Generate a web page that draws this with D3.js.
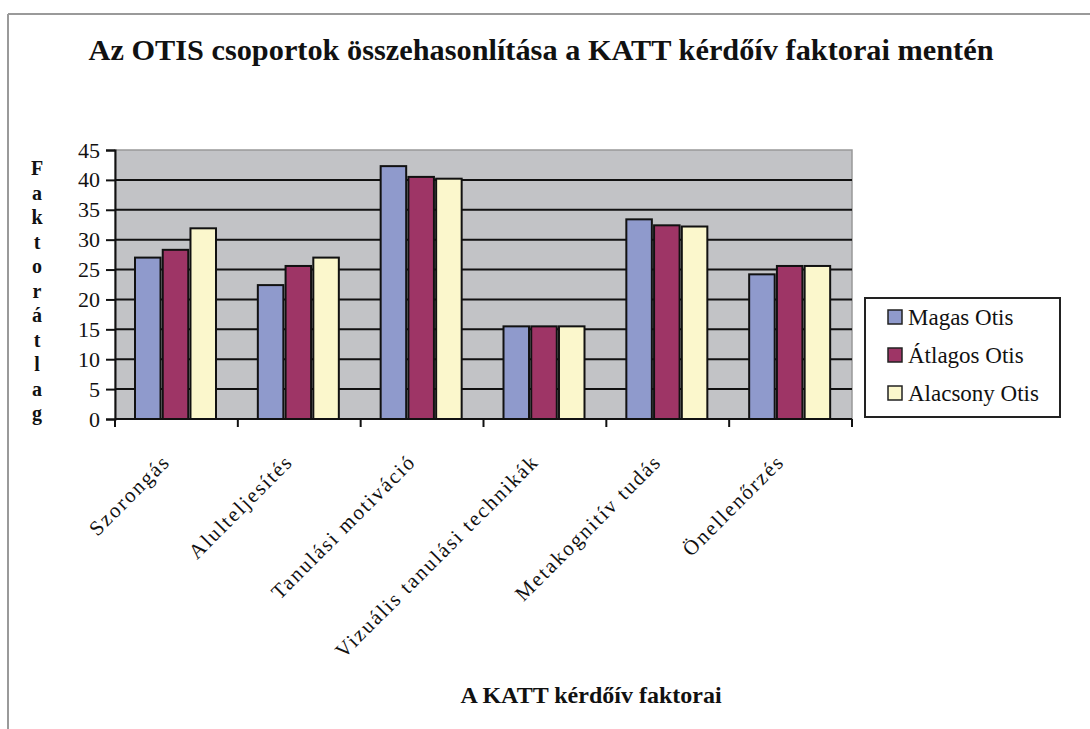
<!DOCTYPE html>
<html lang="hu">
<head>
<meta charset="UTF-8">
<script src="https://d3js.org/d3.v7.min.js"></script>
<title>OTIS csoportok</title>
<style>
  body { margin: 0; background: #fff; }
  svg text { font-family: "Liberation Serif", "DejaVu Serif", serif; fill: #111; }
</style>
</head>
<body>
<svg width="1090" height="729"></svg>
<script>
// data
var categories = ["Szorongás", "Alulteljesítés", "Tanulási motiváció",
                  "Vizuális tanulási technikák", "Metakognitív tudás", "Önellenőrzés"];
var seriesNames = ["Magas Otis", "Átlagos Otis", "Alacsony Otis"];
var magas    = [27.0, 22.4, 42.3, 15.5, 33.4, 24.2];
var atlagos  = [28.3, 25.6, 40.5, 15.5, 32.4, 25.6];
var alacsony = [31.9, 27.0, 40.2, 15.5, 32.2, 25.6];
var yTicks = [0, 5, 10, 15, 20, 25, 30, 35, 40, 45];
var colors = ["#8f9acc", "#9e3566", "#fbf7cc"];

var values = [magas, atlagos, alacsony];
var svg = d3.select("svg");
var serif = "Liberation Serif, DejaVu Serif, serif";

var plotLeft = 115, plotRight = 852, plotTop = 150, plotBottom = 419;

var x0 = d3.scaleBand().domain(categories).range([plotLeft, plotRight]);
var x1 = d3.scaleBand().domain(seriesNames).range([20, 101]).paddingInner(0.08);
var y = d3.scaleLinear().domain([0, 45]).range([plotBottom, plotTop]);

// outer frame (only top and left edges visible in the scan)
svg.append("line").attr("x1", 8).attr("x2", 1090).attr("y1", 14).attr("y2", 14)
   .attr("stroke", "#9a9a9a").attr("stroke-width", 2);
svg.append("line").attr("x1", 8).attr("x2", 8).attr("y1", 14).attr("y2", 729)
   .attr("stroke", "#9a9a9a").attr("stroke-width", 2);

// title
svg.append("text")
   .attr("x", 541).attr("y", 60)
   .attr("text-anchor", "middle")
   .attr("font-family", serif)
   .attr("font-size", "29px").attr("font-weight", "bold")
   .attr("textLength", 905).attr("lengthAdjust", "spacingAndGlyphs")
   .text("Az OTIS csoportok összehasonlítása a KATT kérdőív faktorai mentén");

// plot area
svg.append("rect")
   .attr("x", plotLeft).attr("y", plotTop)
   .attr("width", plotRight - plotLeft).attr("height", plotBottom - plotTop)
   .attr("fill", "#c2c3c6").attr("stroke", "#999").attr("stroke-width", 1.5);

// gridlines
svg.append("g").selectAll("line")
   .data(yTicks.filter(function(d) { return d > 0 && d < 45; }))
   .enter().append("line")
   .attr("x1", plotLeft).attr("x2", plotRight)
   .attr("y1", function(d) { return y(d); })
   .attr("y2", function(d) { return y(d); })
   .attr("stroke", "#111").attr("stroke-width", 2);

// bars
var groups = svg.append("g").selectAll("g")
   .data(categories)
   .enter().append("g")
   .attr("transform", function(d) { return "translate(" + x0(d) + ",0)"; });

groups.selectAll("rect")
   .data(function(d, i) {
     return seriesNames.map(function(s, j) { return { s: s, j: j, v: values[j][i] }; });
   })
   .enter().append("rect")
   .attr("x", function(d) { return x1(d.s); })
   .attr("y", function(d) { return y(d.v); })
   .attr("width", x1.bandwidth())
   .attr("height", function(d) { return plotBottom - y(d.v); })
   .attr("fill", function(d) { return colors[d.j]; })
   .attr("stroke", "#111").attr("stroke-width", 2);

// y axis
var yAxis = svg.append("g")
   .attr("transform", "translate(" + plotLeft + ",0)")
   .call(d3.axisLeft(y).tickValues(yTicks).tickSize(9).tickPadding(6));
yAxis.select(".domain").attr("stroke", "#111").attr("stroke-width", 2);
yAxis.selectAll(".tick line").attr("stroke", "#111").attr("stroke-width", 2);
yAxis.selectAll(".tick text")
   .attr("font-family", serif)
   .attr("font-size", "22px").attr("fill", "#111");

// x axis with ticks on the category borders
var bounds = categories.map(function(c) { return x0(c); }).concat([plotRight]);
svg.append("line").attr("x1", plotLeft).attr("x2", plotRight)
   .attr("y1", plotBottom).attr("y2", plotBottom)
   .attr("stroke", "#111").attr("stroke-width", 2);
svg.append("g").selectAll("line")
   .data(bounds)
   .enter().append("line")
   .attr("x1", function(d) { return d; }).attr("x2", function(d) { return d; })
   .attr("y1", plotBottom).attr("y2", plotBottom + 8)
   .attr("stroke", "#111").attr("stroke-width", 2);

// rotated category labels
svg.append("g").selectAll("text")
   .data(categories)
   .enter().append("text")
   .attr("text-anchor", "end")
   .attr("font-family", serif)
   .attr("font-size", "21px")
   .attr("letter-spacing", "1.9px")
   .attr("transform", function(d) {
     return "translate(" + (x0(d) + x0.bandwidth() / 2 - 5) + "," + (plotBottom + 44) + ") rotate(-45)";
   })
   .text(function(d) { return d; });

// axis titles
svg.append("text")
   .attr("x", 591).attr("y", 703)
   .attr("text-anchor", "middle")
   .attr("font-family", serif)
   .attr("font-size", "24px").attr("font-weight", "bold")
   .text("A KATT kérdőív faktorai");

var yTitle = "Faktorátlag".split("");
svg.append("g").selectAll("text")
   .data(yTitle)
   .enter().append("text")
   .attr("x", 37)
   .attr("y", function(d, i) { return 175 + i * 24.5; })
   .attr("text-anchor", "middle")
   .attr("font-family", serif)
   .attr("font-size", "20px").attr("font-weight", "bold")
   .text(function(d) { return d; });

// legend
var legend = svg.append("g").attr("transform", "translate(865,298)");
legend.append("rect")
   .attr("width", 195).attr("height", 119)
   .attr("fill", "#fff").attr("stroke", "#222").attr("stroke-width", 2);

var items = legend.selectAll("g.item")
   .data(seriesNames)
   .enter().append("g")
   .attr("class", "item")
   .attr("transform", function(d, i) { return "translate(0," + (19 + i * 38) + ")"; });
items.append("rect")
   .attr("x", 23).attr("y", -7)
   .attr("width", 14).attr("height", 14)
   .attr("fill", function(d, i) { return colors[i]; })
   .attr("stroke", "#222").attr("stroke-width", 1.5);
items.append("text")
   .attr("x", 43).attr("y", 8)
   .attr("font-family", serif)
   .attr("font-size", "23px")
   .text(function(d) { return d; });
</script>
</body>
</html>
